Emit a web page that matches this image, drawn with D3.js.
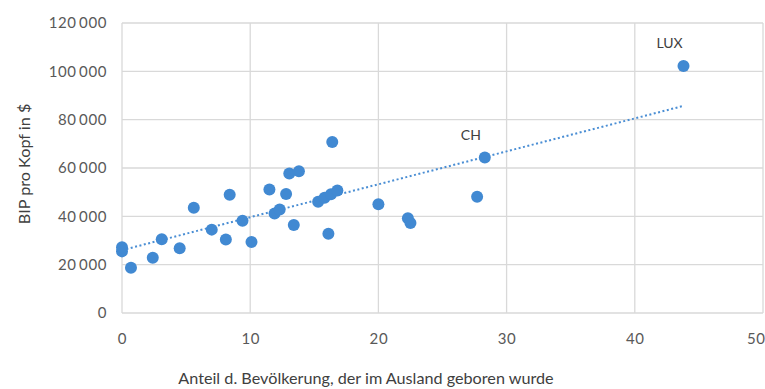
<!DOCTYPE html>
<html><head><meta charset="utf-8">
<script src="https://cdn.jsdelivr.net/npm/d3@7"></script>
<style>
html,body{margin:0;padding:0;background:#fff;}
text{font-family:Lato,"Open Sans",sans-serif;}
</style></head>
<body>
<svg id="c" width="765" height="389"></svg>
<script>
// Anteil d. Bevölkerung im Ausland geboren (%)
const share = [0, 0, 0.7, 2.4, 3.1, 4.5, 5.6, 7.0, 8.1, 8.4, 9.4, 10.1, 11.5, 11.9, 12.3, 12.8, 13.05, 13.4, 13.8, 15.3, 15.8, 16.3, 16.8, 16.4, 16.1, 20.0, 22.3, 22.5, 27.7, 28.3, 43.8];
// BIP pro Kopf in $
const gdp = [25500, 27200, 18700, 22900, 30500, 26800, 43600, 34500, 30400, 48900, 38200, 29400, 51100, 41200, 42800, 49200, 57700, 36400, 58700, 46000, 47700, 49100, 50700, 70800, 32800, 45000, 39200, 37200, 48100, 64300, 102200];
const labels = [{i: 29, text: "CH"}, {i: 30, text: "LUX"}];
const trendX = [0, 43.8];
const trendY = [26000, 85700];
const xTicks = [0, 10, 20, 30, 40, 50];
const yTicks = [0, 20000, 40000, 60000, 80000, 100000, 120000];
const xTitle = "Anteil d. Bevölkerung, der im Ausland geboren wurde";
const yTitle = "BIP pro Kopf in $";

const svg = d3.select("#c");
const L = 122, R = 763, T = 23, B = 313;
const x = d3.scaleLinear().domain([0, 50]).range([L, R]);
const y = d3.scaleLinear().domain([0, 120000]).range([B, T]);
const fmt = v => d3.format(",")(v).replace(/,/g, "\u2009");

const grid = svg.append("g");
grid.selectAll("line.h").data(yTicks).join("line")
  .attr("x1", L).attr("x2", R).attr("y1", d => y(d)).attr("y2", d => y(d))
  .attr("stroke", "#d9d9d9").attr("stroke-width", 1.3);
grid.selectAll("line.v").data(xTicks).join("line")
  .attr("y1", T).attr("y2", B).attr("x1", d => x(d)).attr("x2", d => x(d))
  .attr("stroke", "#d9d9d9").attr("stroke-width", 1.3);

const yAxis = svg.append("g").attr("transform", `translate(${L},0)`)
  .call(d3.axisLeft(y).tickValues(yTicks).tickFormat(fmt).tickSize(0).tickPadding(15));
yAxis.select(".domain").remove();
yAxis.selectAll("text").attr("font-size", 15).attr("fill", "#595959")
  .attr("font-family", "Lato, sans-serif").attr("letter-spacing", "0.6px");

const xAxis = svg.append("g").attr("transform", `translate(0,${B})`)
  .call(d3.axisBottom(x).tickValues(xTicks).tickSize(0).tickPadding(20));
xAxis.select(".domain").remove();
xAxis.selectAll("text").attr("font-size", 15).attr("fill", "#595959")
  .attr("font-family", "Lato, sans-serif").attr("letter-spacing", "0.6px");
// keep the last tick label inside the page
xAxis.selectAll(".tick").filter(d => d === 50).select("text")
  .attr("text-anchor", "end").attr("x", 765 - R);

// trendline
svg.append("line")
  .attr("x1", x(trendX[0])).attr("y1", y(trendY[0]))
  .attr("x2", x(trendX[1])).attr("y2", y(trendY[1]))
  .attr("stroke", "#4a8ed4").attr("stroke-width", 2).attr("stroke-dasharray", "2,2.5");

svg.append("g").selectAll("circle").data(share).join("circle")
  .attr("cx", (d) => x(d)).attr("cy", (d, i) => y(gdp[i])).attr("r", 6)
  .attr("fill", "#4189d2");

svg.append("g").selectAll("text").data(labels).join("text")
  .attr("x", d => x(share[d.i]) - 14).attr("y", d => y(gdp[d.i]) - 18)
  .attr("text-anchor", "middle").attr("font-size", 14).attr("fill", "#404040")
  .text(d => d.text);

svg.append("text").attr("x", 366).attr("y", 384).attr("text-anchor", "middle")
  .attr("font-size", 16.2).attr("fill", "#404040").text(xTitle);
svg.append("text").attr("transform", "translate(30,164) rotate(-90)").attr("text-anchor", "middle")
  .attr("font-size", 16.2).attr("fill", "#404040").text(yTitle);
</script>
</body></html>
